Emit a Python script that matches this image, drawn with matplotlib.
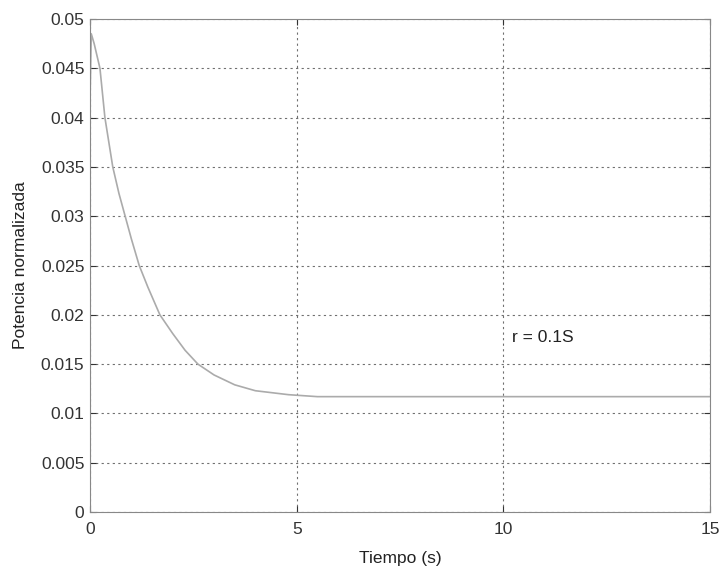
import matplotlib
matplotlib.use("Agg")
import matplotlib.pyplot as plt

plt.rcParams['font.family'] = ['Liberation Sans', 'DejaVu Sans']

# Normalised power vs. time
tiempo = [0.0, 0.03, 0.1, 0.24, 0.36, 0.55, 0.7, 0.85, 1.0, 1.19, 1.4, 1.69,
          2.0, 2.3, 2.61, 3.0, 3.5, 4.0, 4.8, 5.5, 7.0, 10.0, 12.5, 15.0]
potencia = [0.042, 0.0485, 0.0475, 0.045, 0.040, 0.035, 0.0323, 0.030,
            0.0277, 0.025, 0.0228, 0.020, 0.0181, 0.0164, 0.015, 0.0139,
            0.0129, 0.0123, 0.0119, 0.0117, 0.0117, 0.0117, 0.0117, 0.0117]

x_ticks = [0, 5, 10, 15]
y_ticks = [0, 0.005, 0.01, 0.015, 0.02, 0.025, 0.03, 0.035, 0.04, 0.045, 0.05]
y_labels = ['0', '0.005', '0.01', '0.015', '0.02', '0.025', '0.03', '0.035',
            '0.04', '0.045', '0.05']

fig = plt.figure(figsize=(7.22, 5.66), dpi=100)
ax = fig.add_axes([0.1247, 0.0954, 0.8587, 0.871])

ax.plot(tiempo, potencia, color='#ababab', lw=1.2)

ax.set_xlim(0, 15)
ax.set_ylim(0, 0.05)
ax.set_xticks(x_ticks)
ax.set_xticklabels([str(v) for v in x_ticks])
ax.set_yticks(y_ticks)
ax.set_yticklabels(y_labels)

ax.grid(True, linestyle=(0, (2, 3)), color='#707070', lw=0.8)
ax.tick_params(direction='in', length=4, labelsize=12.5, colors='#333333',
               top=True, right=True)
ax.tick_params(axis='x', pad=7)
ax.tick_params(axis='y', pad=4)
for s in ax.spines.values():
    s.set_color('#888888')
    s.set_linewidth(0.8)

ax.set_xlabel('Tiempo (s)', fontsize=12.5, color='#222222', labelpad=10)
ax.set_ylabel('Potencia normalizada', fontsize=12.5, color='#222222', labelpad=9)

ax.text(10.2, 0.0177, 'r = 0.1S', fontsize=12.5, color='#222222', va='center')

fig.savefig('out.png', dpi=100)
